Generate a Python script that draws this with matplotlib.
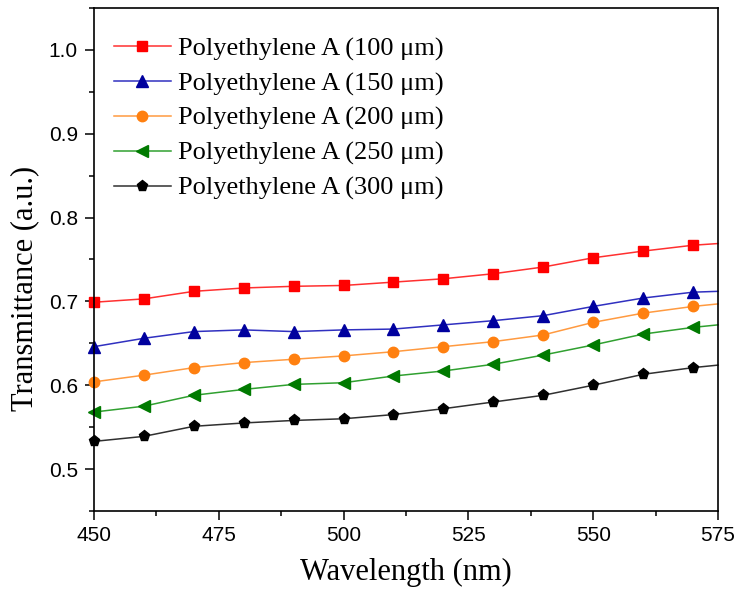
import matplotlib.pyplot as plt
from matplotlib.ticker import MultipleLocator

# wavelength points (last point at 575 carries no marker)
wavelength = [450, 460, 470, 480, 490, 500, 510, 520, 530, 540, 550, 560, 570, 575]

pe100 = [0.699, 0.703, 0.712, 0.716, 0.718, 0.719, 0.723, 0.727, 0.733, 0.741, 0.752, 0.760, 0.767, 0.769]
pe150 = [0.646, 0.656, 0.664, 0.666, 0.664, 0.666, 0.667, 0.672, 0.677, 0.683, 0.694, 0.704, 0.711, 0.712]
pe200 = [0.604, 0.612, 0.621, 0.627, 0.631, 0.635, 0.640, 0.646, 0.652, 0.660, 0.675, 0.686, 0.694, 0.697]
pe250 = [0.568, 0.575, 0.588, 0.595, 0.601, 0.603, 0.611, 0.617, 0.625, 0.636, 0.648, 0.661, 0.669, 0.672]
pe300 = [0.533, 0.539, 0.551, 0.555, 0.558, 0.560, 0.565, 0.572, 0.580, 0.588, 0.600, 0.613, 0.621, 0.624]

labels = ["Polyethylene A (100 \u03bcm)", "Polyethylene A (150 \u03bcm)",
          "Polyethylene A (200 \u03bcm)", "Polyethylene A (250 \u03bcm)",
          "Polyethylene A (300 \u03bcm)"]
series = [pe100, pe150, pe200, pe250, pe300]
colors = ["#ff0000", "#00009e", "#ff8010", "#007a00", "#000000"]
lineColors = ["#ff3030", "#3030c0", "#ff9a40", "#30a030", "#303030"]
markers = ["s", "^", "o", "<", "p"]
msizes = [7, 8, 7.5, 8, 8]

fig = plt.figure(figsize=(7.37, 5.95), dpi=100)
ax = fig.add_axes([0.1275, 0.1412, 0.8467, 0.8454])

for ys, lab, c, lc, m, ms in zip(series, labels, colors, lineColors, markers, msizes):
    ax.plot(wavelength, ys, color=lc, linewidth=1.1, marker=m, markersize=ms,
            markerfacecolor=c, markeredgecolor=c, markevery=list(range(13)),
            label=lab, clip_on=False)

ax.set_xlim(450, 575)
ax.set_ylim(0.45, 1.05)
ax.xaxis.set_major_locator(MultipleLocator(25))
ax.xaxis.set_minor_locator(MultipleLocator(12.5))
ax.yaxis.set_major_locator(MultipleLocator(0.1))
ax.yaxis.set_minor_locator(MultipleLocator(0.05))
ax.tick_params(which='both', direction='out', top=False, right=False, width=1.1)
ax.tick_params(which='major', length=6.5, labelsize=15)
ax.tick_params(which='minor', length=3.6)
ax.tick_params(axis='x', which='major', pad=4)
ax.tick_params(axis='y', which='major', pad=5)
ax.set_yticks([0.5, 0.6, 0.7, 0.8, 0.9, 1.0])
ax.set_yticklabels(["0.5", "0.6", "0.7", "0.8", "0.9", "1.0"])
for lbl in ax.get_xticklabels() + ax.get_yticklabels():
    lbl.set_family("Liberation Sans")
for sp in ax.spines.values():
    sp.set_linewidth(1.2)

ax.set_xlabel("Wavelength (nm)", family="Liberation Serif", fontsize=22)
ax.set_ylabel("Transmittance (a.u.)", family="Liberation Serif", fontsize=22)
ax.xaxis.set_label_coords(0.5, -0.093)
ax.yaxis.set_label_coords(-0.087, 0.443)

ax.legend(loc='upper left', frameon=False, prop={'family': 'Liberation Serif', 'size': 19},
          handlelength=2.16, handletextpad=0.3, labelspacing=0.42,
          borderaxespad=0.0, bbox_to_anchor=(0.0144, 0.964))

plt.savefig("out.png", dpi=100)
